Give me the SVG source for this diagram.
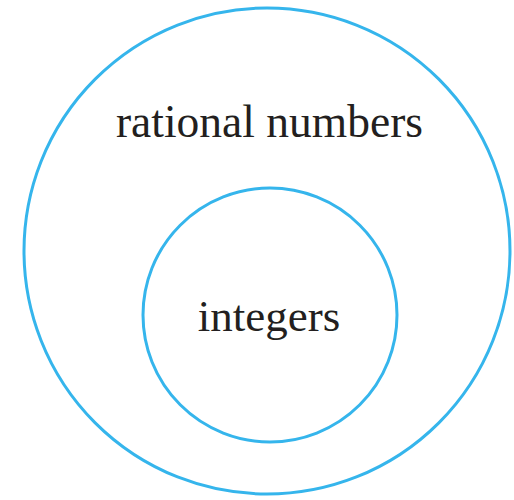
<svg xmlns="http://www.w3.org/2000/svg" width="514" height="500" viewBox="0 0 514 500">
<style>
.ring{fill:none;stroke:#35b5ec;stroke-width:3}
.lbl{font-family:"Liberation Serif","Times New Roman",serif;font-size:45px;fill:#231f20;text-anchor:middle}
</style>
<rect width="514" height="500" fill="#ffffff"/>
<g id="rational">
<circle class="ring" cx="267" cy="251" r="243"/>
<text class="lbl" x="269.5" y="137" style="font-size:45.5px">rational numbers</text>
</g>
<g id="integers">
<circle class="ring" cx="270" cy="315" r="127"/>
<text class="lbl" x="269" y="331">integers</text>
</g>
<g id="connectors"/>
</svg>
